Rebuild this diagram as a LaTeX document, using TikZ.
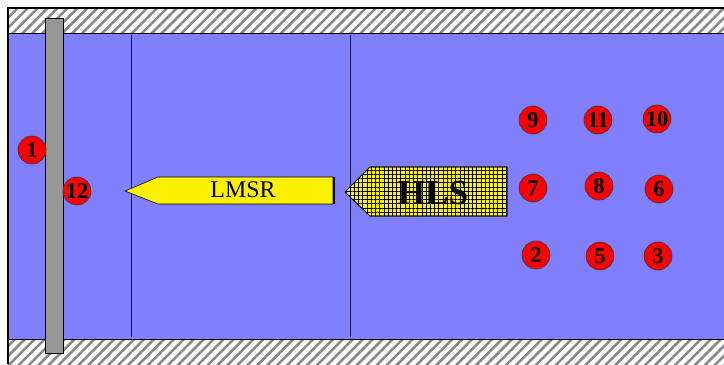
\documentclass[tikz,border=0pt]{standalone}
\usepackage{fontspec}
\setmainfont{Liberation Serif}
\usetikzlibrary{patterns.meta}

\definecolor{water}{RGB}{128,128,255}
\definecolor{hatchgray}{RGB}{135,135,135}
\definecolor{polegray}{RGB}{150,150,150}
\definecolor{navyline}{RGB}{20,20,90}

\tikzset{
  gauge/.style={circle, draw=black!80, thin, fill=red, minimum size=0.7cm,
    inner sep=0pt, font=\bfseries\fontsize{16}{16}\selectfont},
  wallband/.style={pattern={Lines[angle=45,distance=5pt,line width=1.8pt]},
    pattern color=hatchgray},
  sectionline/.style={draw=navyline, thin},
}

\begin{document}
\begin{tikzpicture}[x=0.025cm, y=-0.025cm]
    % Frame of the picture
    \useasboundingbox (0,0) rectangle (724,364);

    % Water and the two walls
    \fill[water] (8,33) rectangle (724,339);
    \fill[white] (8,8) rectangle (724,33);
    \fill[white] (8,339) rectangle (724,364);
    \fill[wallband] (8,8) rectangle (724,33);
    \fill[wallband] (8,339) rectangle (724,364);
    \draw[thin] (8,33) -- (724,33);
    \draw[thin] (8,339) -- (724,339);
    \draw[line width=1.2pt] (8,364) -- (8,8) -- (724,8);

    % Section lines
    \coordinate (S1top) at (131,35);
    \coordinate (S1bot) at (131,337);
    \coordinate (S2top) at (350,35);
    \coordinate (S2bot) at (350,337);
    \draw[sectionline] (S1top) -- (S1bot);
    \draw[sectionline] (S2top) -- (S2bot);

    % Pile
    \draw[fill=polegray] (45,18) rectangle (63,353);

    % LMSR hull
    \draw[fill=yellow, thin] (125,191) -- (158,177) -- (333,177) -- (333,204) -- (158,204) -- cycle;
    \draw[line width=1.5pt] (334,177) -- (334,204);
    \node (lmsr) at (243,190) {\fontsize{17}{17}\selectfont LMSR};

    % HLS hull
    \draw[fill=yellow] (345,192) -- (370,167) -- (507,167) -- (507,216) -- (370,216) -- cycle;
    \fill[pattern={Hatch[angle=0,distance=3pt,line width=0.45pt]}, pattern color=black]
        (345,192) -- (370,167) -- (507,167) -- (507,216) -- (370,216) -- cycle;
    \draw (345,192) -- (370,167) -- (507,167) -- (507,216) -- (370,216) -- cycle;
    \node (hls) at (433,193) {\bfseries\fontsize{25}{25}\selectfont HLS};

    % Measuring points
    \node[gauge] (p1) at (32,150) {1};
    \node[gauge] (p12) at (77,191) {12};
    \node[gauge] (p9) at (533,120) {9};
    \node[gauge] (p11) at (598,120) {11};
    \node[gauge] (p10) at (657,119) {10};
    \node[gauge] (p7) at (533,188) {7};
    \node[gauge] (p8) at (599,186) {8};
    \node[gauge] (p6) at (659,189) {6};
    \node[gauge] (p2) at (536,255) {2};
    \node[gauge] (p5) at (600,256) {5};
    \node[gauge] (p3) at (658,256) {3};
\end{tikzpicture}
\end{document}
